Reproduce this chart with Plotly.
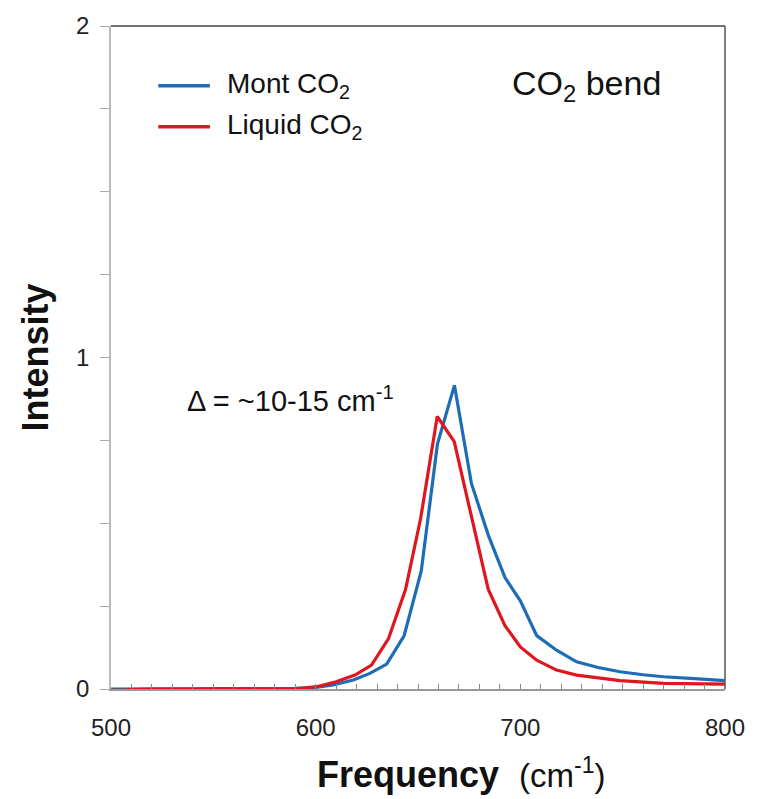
import plotly.graph_objects as go

# ---- data ----
mont_freq = [500, 510, 520, 530, 540, 550, 560, 570, 580, 590, 600, 608.5, 618.4, 626.5,
             634.7, 643.2, 651.6, 659.5, 667.8, 676.1, 684.3, 692.5, 700, 708, 717.7,
             727.5, 738, 748.7, 760, 770, 785, 800]
mont_int = [0.0, 0.0, 0.0, 0.0, 0.0, 0.002, 0.0, 0.0, 0.0, 0.002, 0.005, 0.012, 0.027, 0.047,
            0.075, 0.16, 0.356, 0.739, 0.916, 0.62, 0.465, 0.336, 0.266, 0.161, 0.117,
            0.082, 0.065, 0.052, 0.043, 0.037, 0.031, 0.025]

liq_freq = [500, 505, 510, 520, 540, 550, 555, 570, 590, 600.5, 610, 619.2, 627.3, 635.6,
            643.9, 651.3, 659.4, 667.7, 676.1, 684.3, 692.5, 700, 708, 717.7, 727.5,
            748.7, 770, 800]
liq_int = [-0.003, -0.004, -0.002, 0.0, 0.0, 0.002, 0.001, 0.0, 0.0, 0.007, 0.022, 0.042,
           0.072, 0.152, 0.30, 0.515, 0.822, 0.746, 0.525, 0.301, 0.191, 0.127, 0.087,
           0.057, 0.042, 0.025, 0.017, 0.015]

series_names = ["Mont CO<sub>2</sub>", "Liquid CO<sub>2</sub>"]
series_colors = ["#1C6DB5", "#E0161E"]

FONT = "Liberation Sans, Arial, sans-serif"

fig = go.Figure()
fig.add_trace(go.Scatter(x=mont_freq, y=mont_int, mode="lines", name=series_names[0],
                         line=dict(color=series_colors[0], width=3.2), showlegend=False))
fig.add_trace(go.Scatter(x=liq_freq, y=liq_int, mode="lines", name=series_names[1],
                         line=dict(color=series_colors[1], width=3.2), showlegend=False))

fig.update_layout(
    width=770, height=799,
    margin=dict(l=111, r=45, t=19, b=110),
    plot_bgcolor="white", paper_bgcolor="white",
    font=dict(family=FONT, color="#111"),
)

fig.update_xaxes(
    range=[500, 800], tickvals=[500, 600, 700, 800], ticks="inside", ticklen=5,
    tickcolor="#888", tickwidth=1,
    minor=dict(dtick=10, ticks="inside", ticklen=5, tickcolor="#888"),
    showline=True, linecolor="#999", linewidth=1.5, showgrid=False, zeroline=False,
    tickfont=dict(size=24, family=FONT, color="#222"), ticklabelstandoff=16,
)
fig.update_yaxes(
    range=[0, 2], tickvals=[0, 1, 2], ticks="outside", ticklen=9, tickcolor="#aaa",
    minor=dict(dtick=0.25, ticks="outside", ticklen=9, tickcolor="#aaa"),
    showline=True, linecolor="#bbb", linewidth=1.5, showgrid=False, zeroline=False,
    tickfont=dict(size=24, family=FONT, color="#222"), ticklabelstandoff=6,
    title=dict(text="<b>Intensity</b>", font=dict(size=36, family=FONT, color="#111"), standoff=16),
)

# x-axis title (offset right as in the reference)
fig.add_annotation(xref="paper", yref="paper", x=0.571, y=-0.128,
                   text="<b>Frequency</b>  <span style='font-size:33px'>(cm<sup>-1</sup>)</span>",
                   showarrow=False, xanchor="center", yanchor="middle",
                   font=dict(size=36, family=FONT, color="#111"))

# top and right frame lines
fig.add_shape(type="line", xref="paper", yref="paper", x0=0, x1=1, y0=1, y1=1,
              line=dict(color="#444", width=1.5))
fig.add_shape(type="line", xref="paper", yref="paper", x0=1, x1=1, y0=0, y1=1,
              line=dict(color="#555", width=1.5))

# manual legend
leg_y = [0.91, 0.848]
for name, color, yy in zip(series_names, series_colors, leg_y):
    fig.add_shape(type="line", xref="paper", yref="paper", x0=0.077, x1=0.161, y0=yy, y1=yy,
                  line=dict(color=color, width=3.5))
    fig.add_annotation(xref="paper", yref="paper", x=0.185, y=yy, text=name, showarrow=False,
                       xanchor="left", yanchor="middle", font=dict(size=28, family=FONT, color="#111"))

fig.add_annotation(xref="paper", yref="paper", x=0.775, y=0.91, text="CO<sub>2</sub> bend",
                   showarrow=False, xanchor="center", yanchor="middle",
                   font=dict(size=34, family=FONT, color="#111"))
fig.add_annotation(xref="paper", yref="paper", x=0.12, y=0.438,
                   text="\u0394 = ~10-15 cm<sup>-1</sup>", showarrow=False,
                   xanchor="left", yanchor="middle", font=dict(size=29, family=FONT, color="#111"))

fig.write_html("out.html")
